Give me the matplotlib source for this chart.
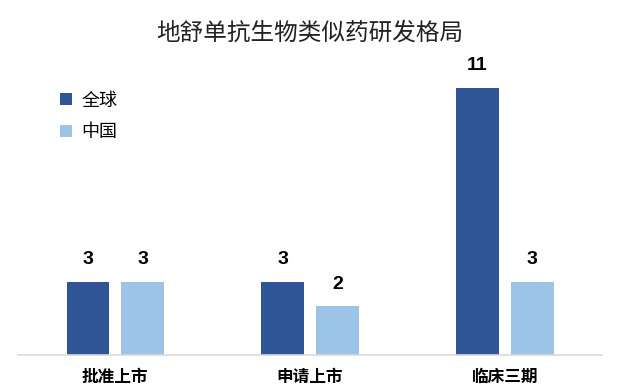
import matplotlib
matplotlib.use("Agg")
import matplotlib.pyplot as plt
import numpy as np

plt.rcParams['font.family'] = ['Noto Sans CJK SC', 'DejaVu Sans']

# data
categories = ["批准上市", "申请上市", "临床三期"]
series_names = ["全球", "中国"]
global_vals = [3, 3, 11]
china_vals = [3, 2, 3]

dark = "#2F5597"
light = "#9DC3E6"

fig = plt.figure(figsize=(6.17, 3.91), dpi=100)
ax = fig.add_axes([0.029, 0.092, 0.947, 0.745])

x = np.arange(len(categories))
w = 0.22
b1 = ax.bar(x - 0.14, global_vals, w, color=dark, label=series_names[0])
b2 = ax.bar(x + 0.14, china_vals, w, color=light, label=series_names[1])

# value labels above bars
for bars in (b1, b2):
    for rect in bars:
        h = rect.get_height()
        ax.annotate(f"{h:g}", (rect.get_x() + rect.get_width() / 2, h),
                    xytext=(0, 16), textcoords="offset points",
                    ha="center", va="center", fontsize=14, fontweight="bold",
                    family=["Liberation Sans", "Noto Sans CJK SC"])

ax.set_xlim(-0.5, 2.5)
ax.set_ylim(0, 12)
ax.set_xticks(x)
ax.set_xticklabels(categories, fontsize=12, fontweight="bold")
ax.tick_params(axis="x", length=0, pad=9)
ax.set_yticks([])
for s in ["top", "right", "left"]:
    ax.spines[s].set_visible(False)
ax.spines["bottom"].set_color("#D9D9D9")
ax.spines["bottom"].set_linewidth(1.2)

fig.text(0.502, 0.915, "地舒单抗生物类似药研发格局", ha="center", va="center",
         fontsize=17, color="#222222")

leg = ax.legend(loc="upper left", bbox_to_anchor=(0.045, 0.96), frameon=False,
                fontsize=13, handlelength=0.65, handleheight=0.65,
                labelspacing=0.75, handletextpad=0.5)

fig.savefig("out.png", dpi=100)
